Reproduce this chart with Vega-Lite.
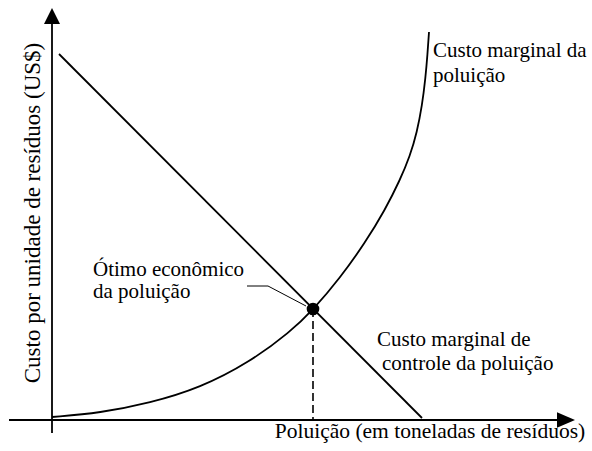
{
  "$schema": "https://vega.github.io/schema/vega-lite/v6.json",
  "width": 592,
  "height": 451,
  "padding": 0,
  "autosize": "none",
  "background": "white",
  "config": {"view": {"stroke": null}},
  "datasets": {
    "axes": [
      {"axis": "x", "x": -0.86, "x2": 10.16, "y": 0, "y2": 0},
      {"axis": "y", "x": 0, "x2": 0, "y": -0.325, "y2": 9.95}
    ],
    "arrowUp": [{"x": 0, "y": 10.1}],
    "arrowRight": [{"x": 10.28, "y": 0}],
    "poluicao": [
      {"x": 0, "y": 0.075},
      {"x": 0.96, "y": 0.175},
      {"x": 1.96, "y": 0.425},
      {"x": 2.96, "y": 0.8},
      {"x": 3.96, "y": 1.45},
      {"x": 4.76, "y": 2.2},
      {"x": 5.22, "y": 2.75},
      {"x": 5.76, "y": 3.55},
      {"x": 6.26, "y": 4.425},
      {"x": 6.66, "y": 5.25},
      {"x": 6.96, "y": 6.0},
      {"x": 7.16, "y": 6.6},
      {"x": 7.3, "y": 7.2},
      {"x": 7.4, "y": 7.85},
      {"x": 7.47, "y": 8.55},
      {"x": 7.51, "y": 9.15},
      {"x": 7.54, "y": 9.7}
    ],
    "controle": [
      {"x": 0.14, "y": 9.15},
      {"x": 7.4, "y": 0.05}
    ],
    "otimo": [{"x": 5.22, "y": 2.775, "y0": 0}],
    "leader": [
      {"o": 1, "x": 3.9, "y": 3.35},
      {"o": 2, "x": 4.32, "y": 3.35},
      {"o": 3, "x": 5.08, "y": 2.85}
    ],
    "labels": [
      {"t": "Custo marginal da", "x": 7.62, "y": 9.075},
      {"t": "poluição", "x": 7.62, "y": 8.45},
      {"t": "Ótimo econômico", "x": 0.82, "y": 3.6},
      {"t": "da poluição", "x": 0.82, "y": 3.05},
      {"t": "Custo marginal de", "x": 6.5, "y": 1.85},
      {"t": "controle da poluição", "x": 6.6, "y": 1.25}
    ],
    "xtitle": [{"t": "Poluição (em toneladas de resíduos)", "x": 7.56, "y": -0.45}],
    "ytitle": [{"t": "Custo por unidade de resíduos (US$)", "x": -0.24, "y": 5.175}]
  },
  "encoding": {
    "x": {"field": "x", "type": "quantitative", "scale": {"domain": [-1.04, 10.8], "nice": false, "zero": false}, "axis": null},
    "y": {"field": "y", "type": "quantitative", "scale": {"domain": [-0.775, 10.5], "nice": false, "zero": false}, "axis": null}
  },
  "layer": [
    {
      "data": {"name": "axes"},
      "mark": {"type": "rule", "stroke": "black", "strokeWidth": 1.8},
      "encoding": {"x2": {"field": "x2"}, "y2": {"field": "y2"}}
    },
    {
      "data": {"name": "arrowUp"},
      "mark": {"type": "point", "shape": "M-1,1L0,-1L1,1Z", "size": 256, "filled": true, "fill": "black", "stroke": null, "opacity": 1}
    },
    {
      "data": {"name": "arrowRight"},
      "mark": {"type": "point", "shape": "M-1,-0.85L1,0L-1,0.85Z", "size": 324, "filled": true, "fill": "black", "stroke": null, "opacity": 1}
    },
    {
      "data": {"name": "controle"},
      "mark": {"type": "line", "stroke": "black", "strokeWidth": 1.8}
    },
    {
      "data": {"name": "poluicao"},
      "mark": {"type": "line", "stroke": "black", "strokeWidth": 1.8, "interpolate": "basis"}
    },
    {
      "data": {"name": "otimo"},
      "mark": {"type": "rule", "stroke": "black", "strokeWidth": 1.6, "strokeDash": [8, 4]},
      "encoding": {"y2": {"field": "y0"}}
    },
    {
      "data": {"name": "leader"},
      "mark": {"type": "line", "stroke": "black", "strokeWidth": 1},
      "encoding": {"order": {"field": "o"}}
    },
    {
      "data": {"name": "otimo"},
      "mark": {"type": "point", "shape": "circle", "size": 160, "filled": true, "fill": "black", "stroke": null, "opacity": 1}
    },
    {
      "data": {"name": "labels"},
      "mark": {"type": "text", "align": "left", "baseline": "alphabetic", "font": "serif", "fontSize": 21, "fill": "black"},
      "encoding": {"text": {"field": "t"}}
    },
    {
      "data": {"name": "xtitle"},
      "mark": {"type": "text", "align": "center", "baseline": "alphabetic", "font": "Liberation Serif", "fontSize": 21.5, "fill": "black"},
      "encoding": {"text": {"field": "t"}}
    },
    {
      "data": {"name": "ytitle"},
      "mark": {"type": "text", "align": "center", "baseline": "alphabetic", "angle": 270, "font": "Times", "fontSize": 23, "fill": "black"},
      "encoding": {"text": {"field": "t"}}
    }
  ]
}
